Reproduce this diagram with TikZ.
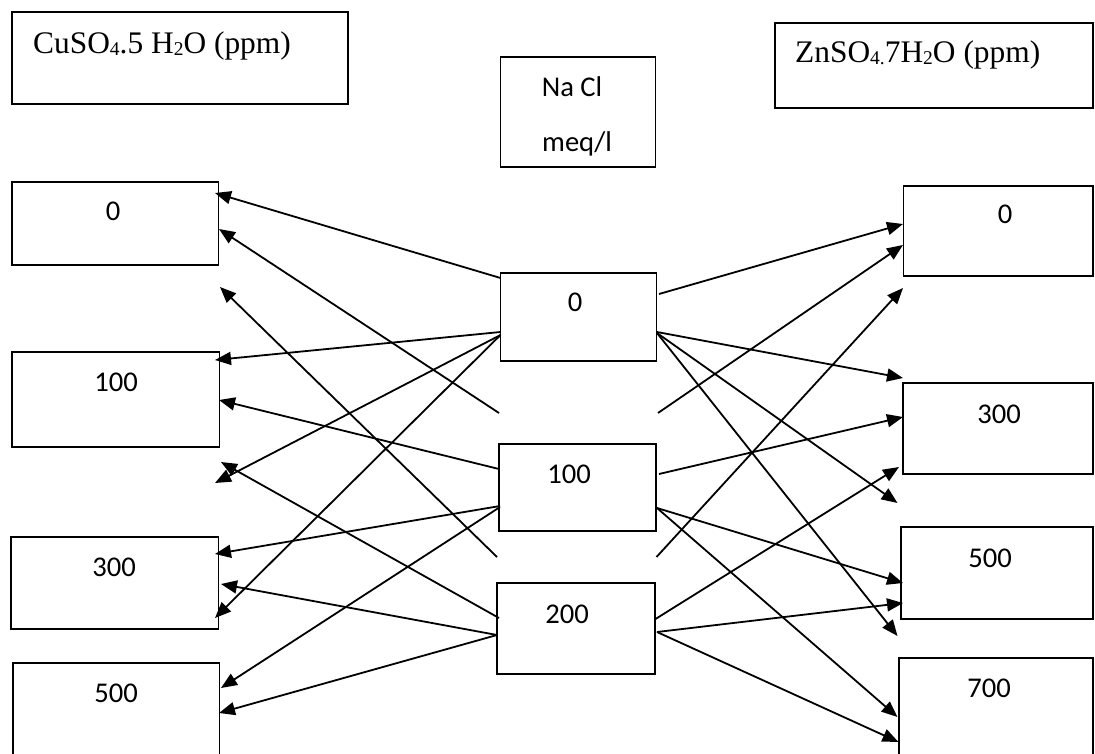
\documentclass[tikz,border=0pt]{standalone}
\usepackage{fontspec}
\setmainfont{Liberation Serif}
\newfontfamily\calfont{Carlito}
\usetikzlibrary{arrows.meta}
\newcommand\subtx[1]{\raisebox{-0.04em}{\fontsize{19.5}{20}\selectfont #1}}
\begin{document}
\begin{tikzpicture}[x=1pt,y=-1pt,
  box/.style={draw, line width=1.5pt, inner sep=0pt, outer sep=0pt},
  num/.style={font=\calfont\fontsize{28.6}{34}\selectfont, anchor=base, inner sep=0pt},
  headtext/.style={font=\fontsize{31.4}{37}\selectfont, anchor=base west, inner sep=0pt},
  arr/.style={line width=1.8pt, -{Triangle[length=16pt,width=13pt]}}]
\useasboundingbox (0,0) rectangle (1095,754);
\clip (0,0) rectangle (1095,754);
\fill[white] (0,0) rectangle (1095,754);

% header boxes
\node[box, minimum width=336pt, minimum height=92pt] (cuh) at (180,58) {};
\node[box, minimum width=155pt, minimum height=110pt] (nacl) at (578,112) {};
\node[box, minimum width=318pt, minimum height=85pt] (znh) at (934,65.5) {};

\node[headtext] (cuht) at (33,54) {CuSO\subtx{4}.5 H\subtx{2}O (ppm)};
\node[headtext] (znht) at (795,63) {ZnSO\subtx{4.}7H\subtx{2}O (ppm)};
\node[num] (naclt1) at (572,97) {Na Cl};
\node[num] (naclt2) at (577,152) {meq/l};

% CuSO4 column
\node[box, minimum width=206.5pt, minimum height=83pt] (cu0) at (115.25,223.5) {};
\node[box, minimum width=207.5pt, minimum height=95pt] (cu100) at (115.75,399.5) {};
\node[box, minimum width=207.5pt, minimum height=92pt] (cu300) at (114.75,583) {};
\node[box, minimum width=206.5pt, minimum height=97pt] (cu500) at (116.25,711.5) {};
\node[num] (cu0t) at (113,221) {0};
\node[num] (cu100t) at (116,391) {100};
\node[num] (cu300t) at (114,576) {300};
\node[num] (cu500t) at (116,702) {500};

% NaCl column
\node[box, minimum width=156pt, minimum height=88pt] (na0) at (578.5,317) {};
\node[box, minimum width=157pt, minimum height=87pt] (na100) at (577.5,487.5) {};
\node[box, minimum width=158pt, minimum height=91pt] (na200) at (576,628.5) {};
\node[num] (na0t) at (575,311) {0};
\node[num] (na100t) at (569,483.5) {100};
\node[num] (na200t) at (567,623.5) {200};

% ZnSO4 column
\node[box, minimum width=189.5pt, minimum height=90pt] (zn0) at (998.25,231) {};
\node[box, minimum width=190pt, minimum height=91pt] (zn300) at (998,428.5) {};
\node[box, minimum width=192pt, minimum height=92pt] (zn500) at (997,573) {};
\node[box, minimum width=194pt, minimum height=102pt] (zn700) at (996,709) {};
\node[num] (zn0t) at (1005,223.5) {0};
\node[num] (zn300t) at (999,423) {300};
\node[num] (zn500t) at (990,567.5) {500};
\node[num] (zn700t) at (989,697.5) {700};

% free ends
\coordinate (L1) at (499,413);
\coordinate (L2) at (497,557);
\coordinate (L3) at (220,287);
\coordinate (L4) at (215,483);
\coordinate (L5) at (221,462);
\coordinate (R1) at (658,413);
\coordinate (R2) at (656.5,557);
\coordinate (R3) at (903,288);
\coordinate (R4) at (903,378);
\coordinate (R5) at (897.5,503);
\coordinate (R6) at (897.5,636);
\coordinate (R7) at (899,467);

% left arrows
\draw[arr] ([shift={(0,5)}]na0.north west) -- ([shift={(-3.5,11)}]cu0.north east);
\draw[arr] (L1) -- ([shift={(0.5,47)}]cu0.north east);
\draw[arr] (L2) -- (L3);
\draw[arr] ([shift={(0,59)}]na0.north west) -- ([shift={(-4.5,8)}]cu100.north east);
\draw[arr] ([shift={(0,62)}]na0.north west) -- (L4);
\draw[arr] ([shift={(0,62)}]na0.north west) -- ([shift={(-3.5,81)}]cu300.north east);
\draw[arr] ([shift={(0,25)}]na100.north west) -- ([shift={(-0.5,48)}]cu100.north east);
\draw[arr] ([shift={(1,62)}]na100.north west) -- ([shift={(-3.5,17)}]cu300.north east);
\draw[arr] ([shift={(1,63)}]na100.north west) -- ([shift={(1.5,25)}]cu500.north east);
\draw[arr] ([shift={(2,35)}]na200.north west) -- (L5);
\draw[arr] ([shift={(0,52)}]na200.north west) -- ([shift={(2.5,47)}]cu300.north east);
\draw[arr] ([shift={(0,52)}]na200.north west) -- ([shift={(-0.5,50)}]cu500.north east);

% right arrows
\draw[arr] ([shift={(2.5,21)}]na0.north east) -- ([shift={(-0.5,38)}]zn0.north west);
\draw[arr] (R1) -- ([shift={(-0.5,59)}]zn0.north west);
\draw[arr] (R2) -- (R3);
\draw[arr] ([shift={(0.5,59)}]na0.north east) -- (R4);
\draw[arr] ([shift={(0.5,60)}]na0.north east) -- (R5);
\draw[arr] ([shift={(0.5,60)}]na0.north east) -- (R6);
\draw[arr] ([shift={(3,30)}]na100.north east) -- ([shift={(0,34)}]zn300.north west);
\draw[arr] ([shift={(1,64)}]na100.north east) -- ([shift={(2,56)}]zn500.north west);
\draw[arr] ([shift={(1,64)}]na100.north east) -- ([shift={(-1.5,59)}]zn700.north west);
\draw[arr] ([shift={(0.5,36)}]na200.north east) -- (R7);
\draw[arr] ([shift={(2,49)}]na200.north east) -- ([shift={(2,76)}]zn500.north west);
\draw[arr] ([shift={(2,49)}]na200.north east) -- ([shift={(-0.5,84)}]zn700.north west);
\end{tikzpicture}
\end{document}
